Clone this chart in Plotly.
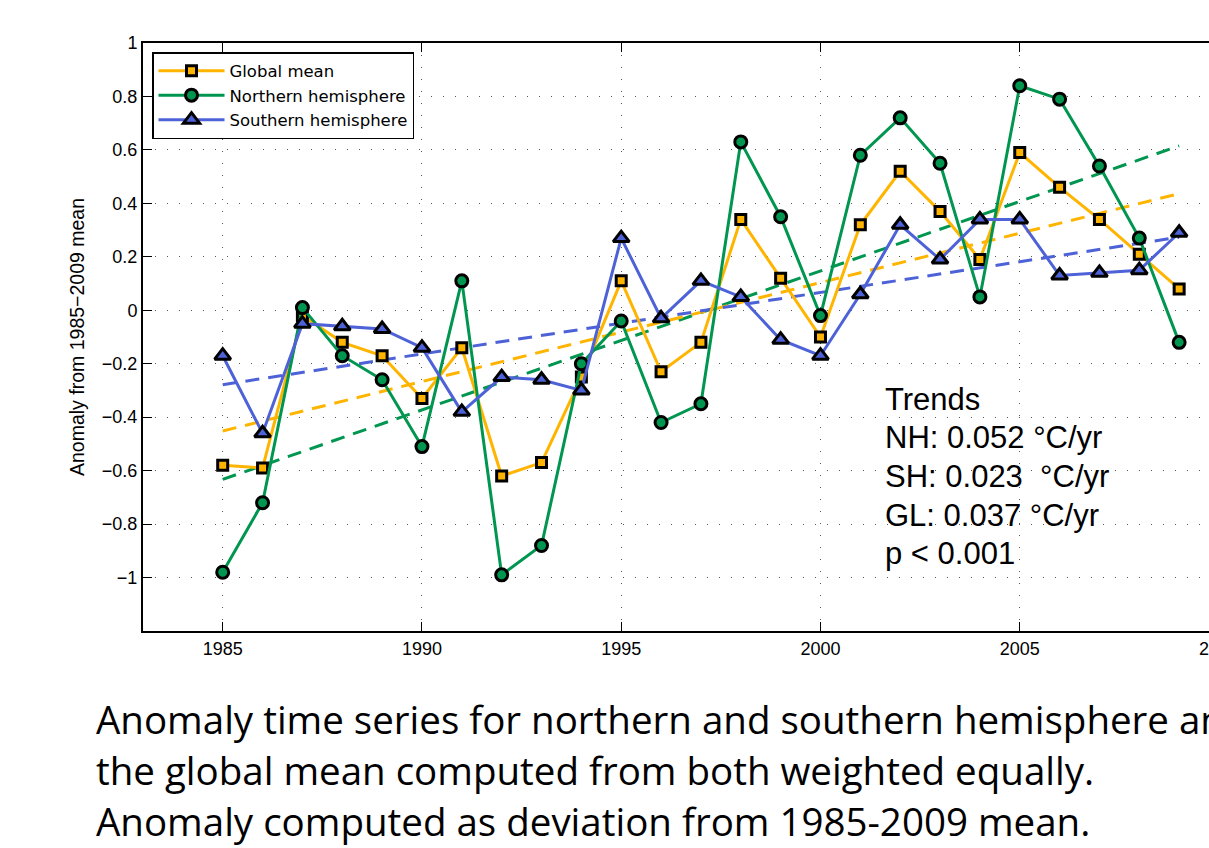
import numpy as np
import plotly.graph_objects as go

# Annual anomalies (deg C) relative to the 1985-2009 mean
years = list(range(1985, 2010))
global_mean = [-0.58, -0.59, -0.02, -0.12, -0.17, -0.33, -0.14, -0.62, -0.57, -0.25,
               0.11, -0.23, -0.12, 0.34, 0.12, -0.10, 0.32, 0.52, 0.37, 0.19,
               0.59, 0.46, 0.34, 0.21, 0.08]
northern = [-0.98, -0.72, 0.01, -0.17, -0.26, -0.51, 0.11, -0.99, -0.88, -0.20,
            -0.04, -0.42, -0.35, 0.63, 0.35, -0.02, 0.58, 0.72, 0.55, 0.05,
            0.84, 0.79, 0.54, 0.27, -0.12]
southern = [-0.17, -0.46, -0.05, -0.06, -0.07, -0.14, -0.38, -0.25, -0.26, -0.30,
            0.27, -0.03, 0.11, 0.05, -0.11, -0.17, 0.06, 0.32, 0.19, 0.34,
            0.34, 0.13, 0.14, 0.15, 0.29]

# Linear trends (deg C / yr)
trend_nh = 0.052
trend_sh = 0.023
trend_gl = 0.037

x_ticks = [1985, 1990, 1995, 2000, 2005, 2010]
y_ticks = [-1, -0.8, -0.6, -0.4, -0.2, 0, 0.2, 0.4, 0.6, 0.8, 1]
y_tick_labels = ["\u22121", "\u22120.8", "\u22120.6", "\u22120.4", "\u22120.2", "0",
                 "0.2", "0.4", "0.6", "0.8", "1"]

ORANGE = "#FFB400"
GREEN = "#009650"
BLUE = "#4E62D8"

fig = go.Figure()


def trend_line(values, slope):
    xs = np.array([years[0], years[-1]], dtype=float)
    xm = np.mean(years)
    ym = np.mean(values)
    return xs, ym + slope * (xs - xm)


for vals, slope, col in [(northern, trend_nh, GREEN),
                         (global_mean, trend_gl, ORANGE),
                         (southern, trend_sh, BLUE)]:
    tx, ty = trend_line(vals, slope)
    fig.add_trace(go.Scatter(x=tx, y=ty, mode="lines", showlegend=False,
                             line=dict(color=col, width=3, dash="14px,9px"),
                             hoverinfo="skip"))

fig.add_trace(go.Scatter(
    x=years, y=global_mean, mode="lines+markers", name="Global mean",
    line=dict(color=ORANGE, width=3),
    marker=dict(symbol="square", size=10, color=ORANGE,
                line=dict(color="black", width=3))))
fig.add_trace(go.Scatter(
    x=years, y=northern, mode="lines+markers", name="Northern hemisphere",
    line=dict(color=GREEN, width=3),
    marker=dict(symbol="circle", size=12, color=GREEN,
                line=dict(color="black", width=3))))
fig.add_trace(go.Scatter(
    x=years, y=southern, mode="lines+markers", name="Southern hemisphere",
    line=dict(color=BLUE, width=3),
    marker=dict(symbol="triangle-up", size=14, color=BLUE,
                line=dict(color="black", width=3))))

# Plot area: left 143 px, top 43 px, bottom 631 px, right edge at 1219 px
W, H = 1260, 848
L, T, B, R = 143, 43, 848 - 631, 1260 - 1219
PW, PH = W - L - R, H - T - B


def px_x(px):
    return (px - L) / PW


def px_y(py):
    return (H - B - py) / PH


trend_lines = ["Trends",
               "NH: %.3f \u00b0C/yr" % trend_nh,
               "SH: %.3f  \u00b0C/yr" % trend_sh,
               "GL: %.3f \u00b0C/yr" % trend_gl,
               "p < 0.001"]
for i, line in enumerate(trend_lines):
    fig.add_annotation(xref="paper", yref="paper", x=px_x(883), y=px_y(399 + 38.7 * i),
                       xanchor="left", yanchor="middle", align="left",
                       showarrow=False, text=line,
                       font=dict(family="Liberation Sans, Arial", size=31,
                                 color="black"))

caption = ["Anomaly time series for northern and southern hemisphere and",
           "the global mean computed from both weighted equally.",
           "Anomaly computed as deviation from 1985-2009 mean."]
for i, line in enumerate(caption):
    fig.add_annotation(xref="paper", yref="paper", x=px_x(94), y=px_y(719 + 51 * i),
                       xanchor="left", yanchor="middle", align="left",
                       showarrow=False, text=line,
                       font=dict(family="Open Sans", size=38.5, color="black"))

axis_common = dict(showline=True, linecolor="black", linewidth=2,
                   ticks="inside", ticklen=9, tickwidth=1, tickcolor="black",
                   showgrid=True, gridcolor="#555555", gridwidth=1,
                   griddash="1px,11px", zeroline=False,
                   ticklabeloverflow="allow",
                   tickfont=dict(family="Liberation Sans, Arial", size=18,
                                 color="black"))

fig.update_xaxes(range=[1983, 2010], tickvals=x_ticks, mirror="ticks", **axis_common)
fig.update_yaxes(range=[-1.2, 1], tickvals=y_ticks, ticktext=y_tick_labels,
                 mirror=False,
                 title=dict(text="Anomaly from 1985\u22122009 mean", standoff=12,
                            font=dict(family="Liberation Sans, Arial", size=19.5,
                                      color="black")),
                 **axis_common)

fig.update_layout(
    width=W, height=H,
    margin=dict(l=L, r=R, t=T, b=B, autoexpand=False),
    paper_bgcolor="white", plot_bgcolor="white",
    legend=dict(x=px_x(152), y=px_y(52), xanchor="left", yanchor="top",
                bgcolor="white", bordercolor="black", borderwidth=1.5,
                itemwidth=66, tracegroupgap=0,
                font=dict(family="DejaVu Sans", size=16.5, color="black")),
)

fig.write_html(
    "out.html",
    post_script=("document.body.style.margin='0';"
                 "document.body.style.overflow='hidden';"
                 "document.documentElement.style.overflow='hidden';"),
)
